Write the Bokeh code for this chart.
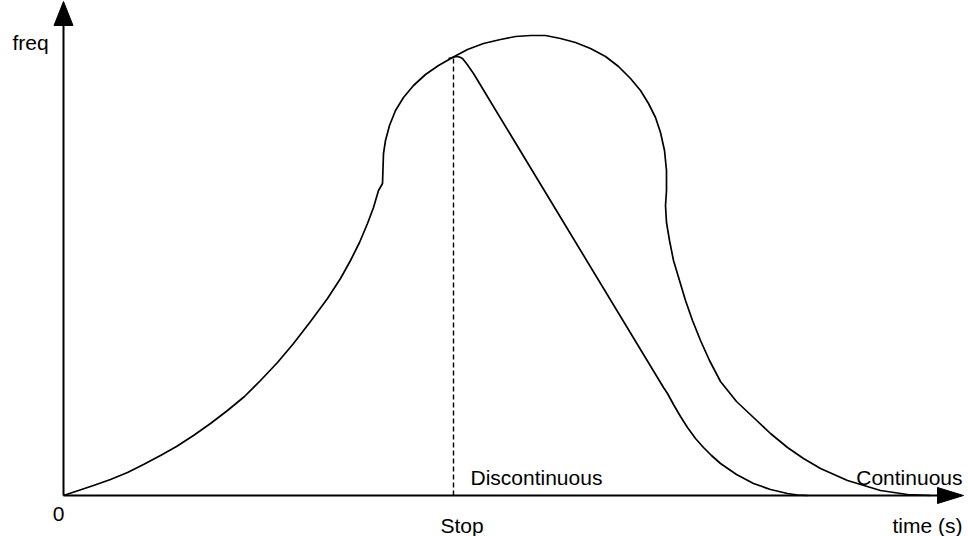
from bokeh.plotting import figure
from bokeh.models import Range1d, ColumnDataSource
from bokeh.core.properties import value
from bokeh.embed import file_html
from bokeh.resources import INLINE

# ---- data (time in s, frequency in arbitrary units) ----
cont_t = [0.00, 0.15, 0.30, 0.47, 0.64, 0.80, 0.97, 1.13, 1.30, 1.47, 1.64, 1.81,
          1.97, 2.14, 2.30, 2.47, 2.64, 2.77, 2.87, 2.96, 3.04, 3.10, 3.15, 3.19,
          3.20, 3.22, 3.26, 3.32, 3.40, 3.50, 3.62, 3.75, 3.89, 4.04, 4.20, 4.37,
          4.52, 4.67, 4.82, 4.97, 5.12, 5.27, 5.42, 5.55, 5.67, 5.77, 5.85, 5.92,
          5.97, 6.01, 6.03, 6.03, 6.02, 6.03, 6.06, 6.10, 6.16, 6.22, 6.29, 6.37,
          6.46, 6.57, 6.73, 6.90, 7.07, 7.24, 7.40, 7.57, 7.84, 8.17, 8.44, 8.67]
cont_f = [0.00, 0.05, 0.10, 0.16, 0.23, 0.31, 0.40, 0.49, 0.60, 0.72, 0.85, 0.99,
          1.15, 1.33, 1.52, 1.74, 1.97, 2.17, 2.35, 2.53, 2.72, 2.88, 3.05, 3.12,
          3.42, 3.55, 3.70, 3.85, 3.98, 4.10, 4.21, 4.30, 4.38, 4.46, 4.52, 4.56,
          4.59, 4.60, 4.60, 4.57, 4.53, 4.47, 4.39, 4.29, 4.17, 4.05, 3.92, 3.78,
          3.63, 3.45, 3.25, 3.05, 2.90, 2.73, 2.55, 2.35, 2.15, 1.95, 1.75, 1.55,
          1.35, 1.14, 0.94, 0.78, 0.62, 0.48, 0.37, 0.27, 0.15, 0.05, 0.01, 0.00]

disc_t = [3.85, 3.89, 3.93, 3.96, 3.99, 4.03, 4.10, 6.00, 6.04, 6.10, 6.17, 6.24,
          6.32, 6.40, 6.48, 6.57, 6.73, 6.90, 7.07, 7.24, 7.34, 7.44]
disc_f = [4.37, 4.38, 4.39, 4.385, 4.37, 4.32, 4.22, 1.08, 1.02, 0.91, 0.79, 0.68,
          0.57, 0.48, 0.40, 0.32, 0.21, 0.12, 0.06, 0.02, 0.005, 0.00]

stop_t = 3.90          # moment of the stop command
t_axis_end = 9.00      # arrow tip of the time axis
f_axis_end = 4.94      # arrow tip of the frequency axis

labels_text = ["freq", "0", "Stop", "Discontinuous", "Continuous", "time (s)"]
labels_t = [-0.51, -0.05, 3.77, 4.07, 8.99, 8.99]
labels_f = [4.53, -0.18, -0.30, 0.18, 0.18, -0.30]
labels_align = ["left", "center", "left", "left", "right", "right"]

# ---- figure ----
W, H = 968, 536
p = figure(width=W, height=H, output_backend="svg", toolbar_location=None,
           x_range=Range1d(-0.63, 9.05), y_range=Range1d(-0.41, 4.95),
           x_axis_type=None, y_axis_type=None, min_border=0,
           background_fill_color="white", border_fill_color="white")
p.grid.visible = False
p.outline_line_color = None

# axes with arrow heads
hx_len, hx_half = 0.26, 0.08
hy_len, hy_half = 0.24, 0.095
p.line([0, t_axis_end - hx_len], [0, 0], line_color="black", line_width=2)
p.line([0, 0], [0, f_axis_end - hy_len], line_color="black", line_width=2)
p.patches(
    xs=[[t_axis_end - hx_len, t_axis_end - hx_len, t_axis_end],
        [-hy_half, hy_half, 0]],
    ys=[[-hx_half, hx_half, 0],
        [f_axis_end - hy_len, f_axis_end - hy_len, f_axis_end]],
    fill_color="black", line_color="black", line_width=1)

# stop marker
p.line([stop_t, stop_t], [0, disc_f[1]], line_color="black", line_width=1.4,
       line_dash="5 3")

# curves
p.line(cont_t, cont_f, line_color="black", line_width=1.7, line_join="round")
p.line(disc_t, disc_f, line_color="black", line_width=1.7, line_join="round")

# labels
src = ColumnDataSource(dict(x=labels_t, y=labels_f, text=labels_text, align=labels_align))
p.text(x="x", y="y", text="text", source=src, text_align="align",
       text_baseline="alphabetic", text_font=value("Liberation Sans"),
       text_font_size="21px", text_color="black")

open("out.html", "w").write(file_html(p, INLINE))
